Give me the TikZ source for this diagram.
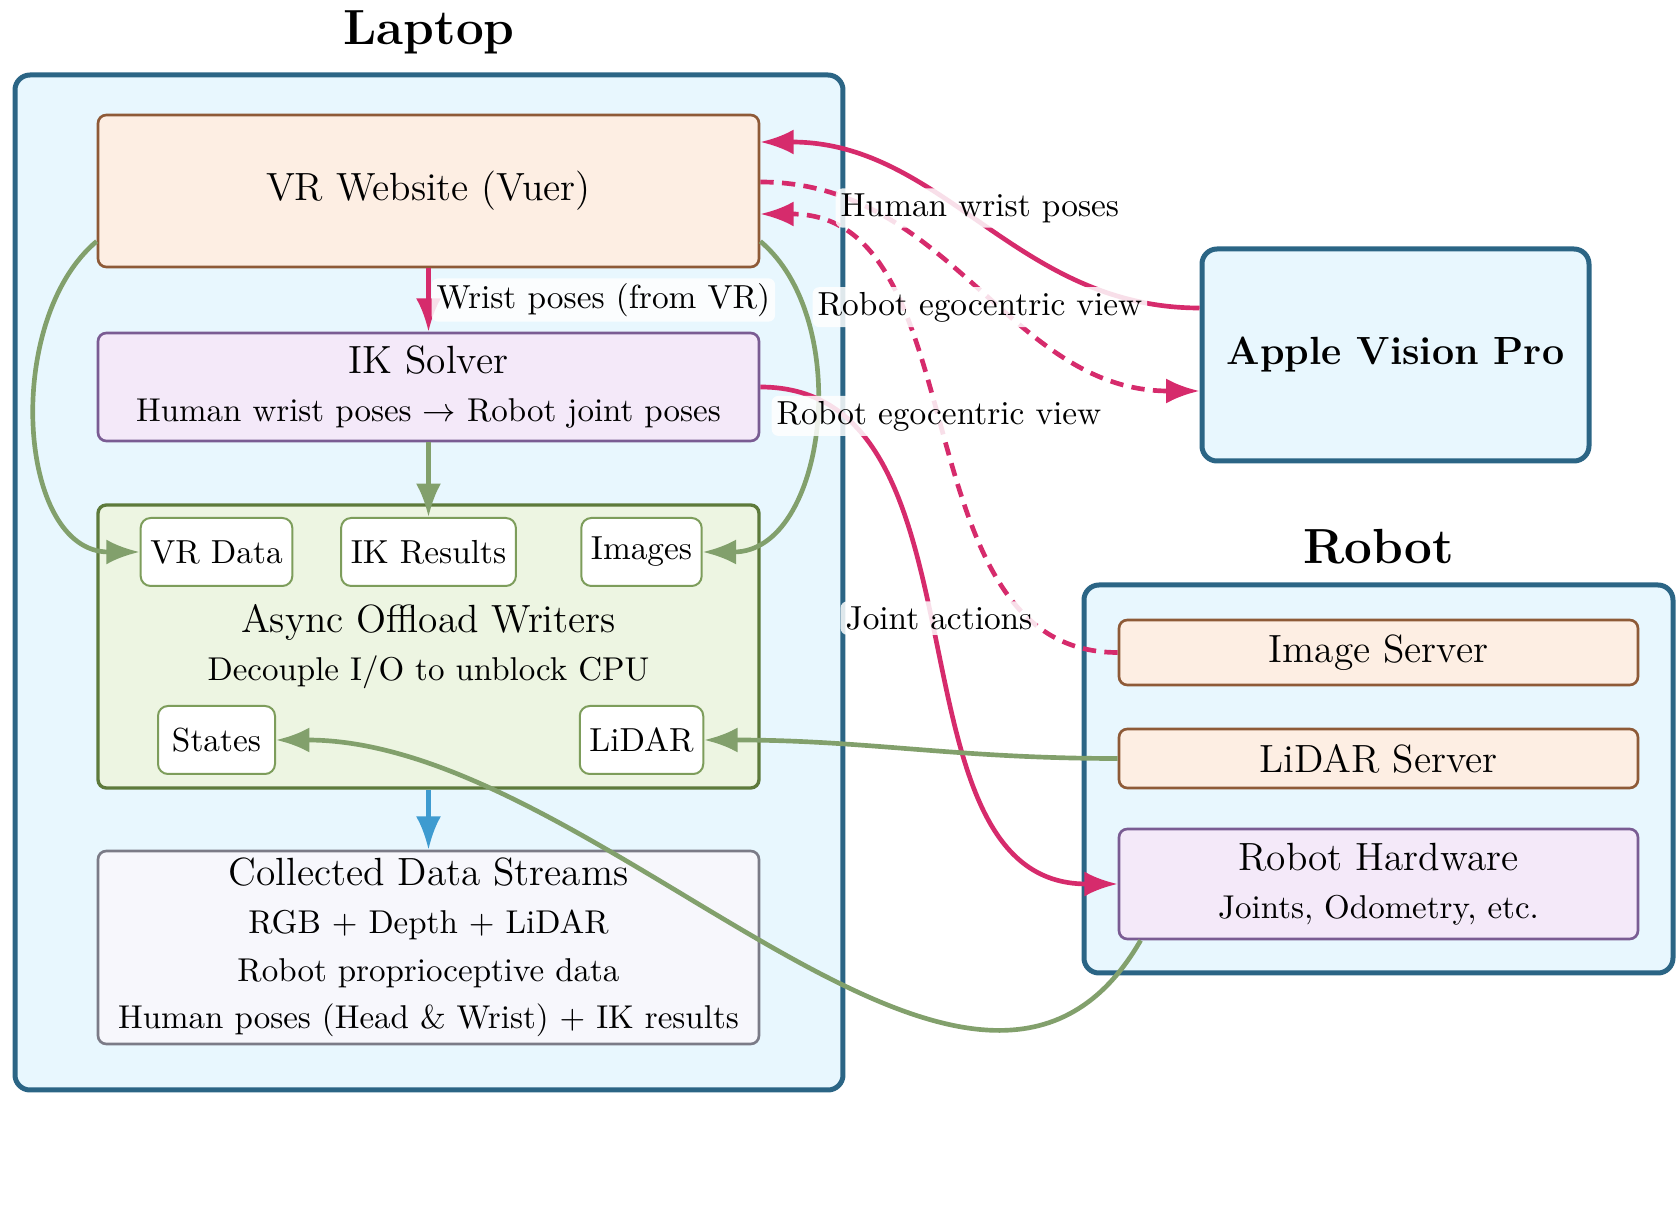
\documentclass[tikz,border=0pt]{standalone}
\usepackage{amsmath}
\usepackage{amssymb}
\usetikzlibrary{positioning,calc,arrows.meta}

\definecolor{hostline}{HTML}{2B6585}
\definecolor{hostfill}{HTML}{E8F7FE}
\definecolor{peachfill}{HTML}{FDEEE3}
\definecolor{peachline}{HTML}{8E5A37}
\definecolor{lilacfill}{HTML}{F4E9F9}
\definecolor{lilacline}{HTML}{7A5C93}
\definecolor{leaffill}{HTML}{EDF5E2}
\definecolor{leafline}{HTML}{5D7A3B}
\definecolor{slotline}{HTML}{7D9D5B}
\definecolor{mistfill}{HTML}{F7F7FC}
\definecolor{mistline}{HTML}{7B7B87}
\definecolor{flowpink}{HTML}{D62B6C}
\definecolor{flowgreen}{HTML}{82A06C}
\definecolor{flowblue}{HTML}{3E9BD0}

\newcommand{\detail}{\fontsize{9.9}{14.3}\selectfont}

\begin{document}
\begin{tikzpicture}[
    x=0.3pt, y=0.3pt,
    host/.style={draw=hostline, fill=hostfill, line width=1.5pt, rounded corners=4.5pt},
    hosttitle/.style={font=\fontsize{14.8}{17}\selectfont\bfseries},
    block/.style={draw, line width=0.8pt, rounded corners=2.5pt, inner sep=1pt, align=center, minimum width=198.3pt, font=\fontsize{11.8}{14.3}\selectfont},
    peach/.style={block, draw=peachline, fill=peachfill},
    lilac/.style={block, draw=lilacline, fill=lilacfill},
    slot/.style={draw=slotline, fill=white, line width=0.6pt, rounded corners=3pt, inner xsep=2.9pt, minimum width=35.1pt, minimum height=20.4pt, font=\fontsize{10}{12}\selectfont},
    flow/.style={line width=1.4pt, -{Latex[length=10pt, width=7.5pt]}},
    pinkflow/.style={flow, draw=flowpink},
    greenflow/.style={flow, draw=flowgreen},
    blueflow/.style={flow, draw=flowblue},
    stream/.style={pinkflow, dash pattern=on 4pt off 2.5pt},
    flowlabel/.style={fill=white, fill opacity=0.85, text opacity=1, rounded corners=2pt, inner sep=1.5pt, font=\fontsize{10}{12}\selectfont}
]
\useasboundingbox (0,0) rectangle (1677,1210);

% Host frames
\node[host, minimum width=248.4pt, minimum height=304.5pt] (laptop) at (429, 627.5) {};
\node[hosttitle, above=2pt of laptop] (laptoptitle) {Laptop};
\node[host, minimum width=176.7pt, minimum height=116.4pt] (robot) at (1378.5, 431) {};
\node[hosttitle, above=2pt of robot] (robottitle) {Robot};

% Laptop pipeline
\node[peach, minimum height=45.6pt] (vr) at (428.5, 1019) {VR Website (Vuer)};
\node[lilac, minimum height=32.4pt] (ik) at (428.5, 823) {IK Solver\\{\detail Human wrist poses $\to$ Robot joint poses}};
\node[block, draw=leafline, fill=leaffill, line width=1pt, minimum height=84.9pt] (writers) at (428.5, 563.5) {Async Offload Writers\\{\detail Decouple I/O to unblock CPU}};
\node[block, draw=mistline, fill=mistfill, minimum height=57.9pt] (streams) at (428.5, 262.5) {Collected Data Streams\\{\detail RGB + Depth + LiDAR}\\{\detail Robot proprioceptive data}\\{\detail Human poses (Head \& Wrist) + IK results}};

% Writer slots
\node[slot] (vrdata) at (216.5, 658) {VR Data};
\node[slot] (ikres) at (428.5, 658) {IK Results};
\node[slot] (images) at (641.5, 658) {Images};
\node[slot] (states) at (216.5, 470) {States};
\node[slot] (lidar) at (641.5, 470) {LiDAR};

% Headset and robot side
\node[host, minimum width=116.1pt, minimum height=63.6pt, font=\fontsize{11.8}{14.3}\selectfont\bfseries] (avp) at (1395.5, 855) {Apple Vision Pro};
\node[peach, minimum width=155.7pt, minimum height=19.5pt] (imgsrv) at (1378.5, 557.5) {Image Server};
\node[peach, minimum width=155.7pt, minimum height=17.7pt] (lidarsrv) at (1378.5, 451.5) {LiDAR Server};
\node[lilac, minimum width=155.7pt, minimum height=33pt] (hw) at (1378.5, 326) {Robot Hardware\\{\detail Joints, Odometry, etc.}};

% Flows inside the laptop
\draw[greenflow] ($(vr.south west)+(0,27)$) to[out=220, in=180] (vrdata);
\draw[greenflow] ($(vr.south east)+(0,27)$) to[out=-40, in=0] (images);
\draw[pinkflow] (vr) -- (ik) coordinate[midway] (wristmid);
\draw[greenflow] (ik) -- (ikres);
\draw[blueflow] (writers) -- (streams);

% Flows between devices
\draw[pinkflow] ($(avp.west)+(0,47)$) to[out=180, in=0] coordinate[pos=0.5] (humanmid) ($(vr.east)+(0,49)$);
\draw[stream] ($(vr.east)+(0,9)$) to[out=0, in=180] coordinate[pos=0.5] (viewmid) ($(avp.west)+(0,-36)$);
\draw[stream] (imgsrv.west) to[out=180, in=0] coordinate[pos=0.5] (imagemid) ($(vr.east)+(0,-23)$);
\draw[pinkflow] (ik.east) to[out=0, in=180] coordinate[pos=0.5] (jointmid) (hw.west);
\draw[greenflow] (lidarsrv.west) to[out=180, in=0] (lidar.east);
\draw[greenflow] ($(hw.south west)+(23,0)$) .. controls +(-165,-286) and +(325,0) .. (states.east);

% Flow labels on top
\node[flowlabel, right=0.7pt] (wristlbl) at (wristmid) {Wrist poses (from VR)};
\node[flowlabel, above, yshift=-1pt] (humanlbl) at (humanmid) {Human wrist poses};
\node[flowlabel, below] (viewlbl) at (viewmid) {Robot egocentric view};
\node[flowlabel, above, yshift=-1pt] (imagelbl) at (imagemid) {Robot egocentric view};
\node[flowlabel, above] (jointlbl) at (jointmid) {Joint actions};

\end{tikzpicture}
\end{document}
